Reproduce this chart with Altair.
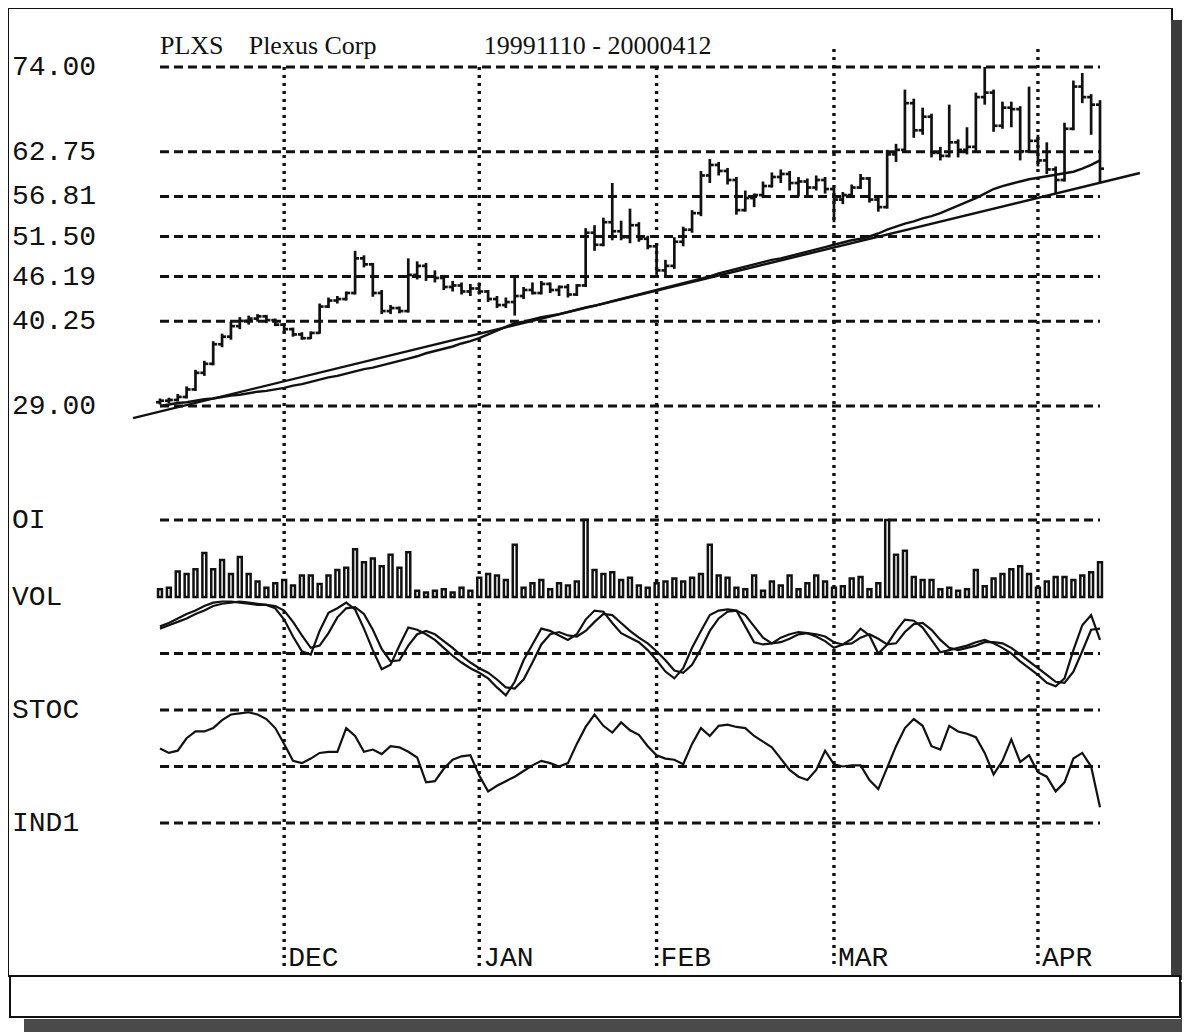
import altair as alt
import pandas as pd

# ---------------- data ----------------
opens = [29.5, 29.7, 29.8, 30.2, 31.2, 33.4, 34.6, 37.2, 38.2, 39.6,
         40.3, 40.6, 40.9, 40.4, 39.8, 39.2, 38.5, 38.0, 38.7, 42.2,
         43.0, 43.2, 44.0, 48.6, 47.8, 44.0, 41.6, 42.0, 41.6, 46.4,
         47.6, 46.2, 46.0, 44.8, 45.0, 44.2, 44.6, 44.2, 43.2, 42.4,
         42.8, 43.6, 44.4, 44.0, 45.2, 44.4, 44.8, 43.8, 45.0, 52.0,
         50.4, 53.4, 52.2, 51.4, 53.0, 51.2, 50.2, 47.0, 47.6, 50.8,
         52.4, 54.6, 59.6, 61.0, 60.2, 59.0, 55.0, 56.6, 57.0, 58.2,
         59.4, 59.8, 58.6, 58.8, 58.0, 59.0, 57.8, 56.4, 57.0, 58.0,
         59.2, 56.4, 55.4, 62.4, 63.0, 69.2, 65.6, 67.4, 62.6, 62.2,
         64.0, 63.0, 63.4, 70.0, 70.6, 66.2, 68.6, 68.4, 62.8, 64.2,
         61.6, 60.4, 59.0, 65.8, 71.4, 70.0, 69.0]
highs = [30.0, 30.1, 30.6, 31.6, 33.8, 35.0, 37.6, 38.6, 40.2, 40.8,
         41.0, 41.2, 41.1, 40.6, 40.0, 39.4, 38.8, 38.9, 42.6, 43.4,
         43.6, 44.2, 49.6, 49.0, 48.0, 44.4, 42.4, 42.2, 48.6, 48.2,
         48.0, 47.0, 46.4, 45.6, 45.4, 45.2, 45.4, 44.4, 43.6, 43.4,
         46.0, 44.8, 45.4, 45.6, 45.4, 45.0, 45.2, 45.2, 52.6, 53.0,
         54.0, 58.6, 53.6, 55.2, 53.4, 51.6, 50.6, 48.4, 51.4, 52.8,
         55.0, 60.2, 61.8, 61.4, 60.6, 59.4, 57.6, 57.2, 58.8, 60.0,
         60.4, 60.2, 59.4, 59.2, 59.6, 59.4, 58.0, 57.4, 58.4, 59.8,
         59.4, 56.8, 63.0, 63.8, 71.0, 69.8, 68.6, 67.8, 63.4, 69.0,
         64.4, 66.0, 70.6, 74.0, 71.0, 69.4, 69.4, 68.8, 71.4, 65.0,
         64.0, 60.8, 66.6, 72.2, 73.2, 70.4, 69.6]
lows = [29.2, 29.4, 29.6, 30.0, 31.0, 33.0, 34.4, 36.8, 37.8, 39.2,
        39.8, 40.2, 40.0, 39.6, 38.8, 38.2, 37.8, 37.9, 38.6, 42.0,
        42.6, 43.0, 43.8, 47.4, 43.5, 41.2, 41.2, 41.3, 41.4, 45.8,
        45.6, 45.4, 44.4, 44.2, 43.8, 43.6, 43.8, 42.8, 42.0, 42.0,
        41.0, 43.2, 43.8, 43.8, 44.0, 43.6, 43.4, 43.6, 44.8, 49.6,
        50.2, 51.0, 51.0, 50.6, 50.8, 49.8, 46.4, 46.2, 47.2, 50.2,
        52.0, 54.2, 58.6, 59.6, 58.4, 54.4, 54.8, 55.4, 56.6, 58.0,
        58.6, 57.6, 56.8, 57.0, 57.6, 57.2, 53.4, 55.8, 56.6, 57.8,
        56.0, 54.8, 55.2, 61.4, 62.8, 64.6, 65.0, 62.0, 61.6, 62.0,
        62.0, 62.4, 62.8, 69.0, 65.4, 65.8, 66.0, 61.6, 62.6, 60.8,
        59.8, 57.2, 58.8, 65.6, 69.2, 65.0, 58.6]
closes = [29.7, 29.8, 30.2, 31.2, 33.4, 34.6, 37.2, 38.2, 39.6, 40.3,
          40.6, 40.9, 40.4, 39.8, 39.2, 38.5, 38.0, 38.7, 42.2, 43.0,
          43.2, 44.0, 48.6, 47.8, 44.0, 41.6, 42.0, 41.6, 46.4, 47.6,
          46.2, 46.0, 44.8, 45.0, 44.2, 44.6, 44.2, 43.2, 42.4, 42.8,
          43.6, 44.4, 44.0, 45.2, 44.4, 44.8, 43.8, 45.0, 52.0, 50.4,
          53.4, 52.2, 51.4, 53.0, 51.2, 50.2, 47.0, 47.6, 50.8, 52.4,
          54.6, 59.6, 61.0, 60.2, 59.0, 55.0, 56.6, 57.0, 58.2, 59.4,
          59.8, 58.6, 58.8, 58.0, 59.0, 57.8, 56.4, 57.0, 58.0, 59.2,
          56.4, 55.4, 62.4, 63.0, 69.2, 65.6, 67.4, 62.6, 62.2, 64.0,
          63.0, 63.4, 70.0, 70.6, 66.2, 68.6, 68.4, 62.8, 64.2, 61.6,
          60.4, 59.0, 65.8, 71.4, 70.0, 69.0, 60.5]
moving_avg = [29.0, 29.2, 29.4, 29.5, 29.7, 29.9, 30.0, 30.2, 30.4, 30.5,
              30.7, 30.9, 31.0, 31.2, 31.4, 31.7, 31.9, 32.2, 32.5, 32.8,
              33.0, 33.3, 33.6, 33.9, 34.1, 34.4, 34.7, 35.0, 35.3, 35.6,
              36.0, 36.3, 36.6, 36.9, 37.3, 37.6, 38.0, 38.5, 39.0, 39.5,
              40.0, 40.2, 40.5, 40.8, 41.0, 41.2, 41.5, 41.8, 42.1, 42.3,
              42.6, 42.9, 43.2, 43.5, 43.8, 44.1, 44.4, 44.7, 45.0, 45.3,
              45.6, 45.9, 46.2, 46.6, 46.9, 47.2, 47.5, 47.8, 48.1, 48.4,
              48.6, 48.9, 49.2, 49.5, 49.8, 50.1, 50.4, 50.7, 51.0, 51.2,
              51.5, 51.9, 52.4, 52.8, 53.2, 53.5, 53.9, 54.2, 54.6, 55.1,
              55.6, 56.1, 56.6, 57.2, 57.8, 58.2, 58.5, 58.8, 59.1, 59.3,
              59.5, 59.7, 59.9, 60.1, 60.5, 61.0, 61.6]
volume = [10, 12, 33, 30, 36, 57, 36, 48, 30, 52,
          30, 20, 12, 18, 22, 15, 28, 28, 17, 28,
          35, 38, 62, 45, 50, 40, 55, 38, 58, 8,
          6, 8, 10, 6, 12, 8, 25, 30, 28, 22,
          68, 12, 18, 22, 10, 18, 15, 20, 100, 35,
          30, 32, 22, 25, 15, 12, 18, 20, 24, 20,
          25, 30, 68, 28, 25, 12, 10, 28, 8, 20,
          15, 28, 10, 18, 28, 20, 12, 14, 24, 26,
          10, 18, 100, 55, 60, 26, 22, 22, 10, 12,
          8, 10, 35, 14, 24, 30, 36, 40, 30, 12,
          20, 26, 26, 22, 28, 32, 45]
stoch_k = [74, 77, 81, 85, 88, 92, 95, 96, 96, 95,
           94, 93, 93, 90, 80, 65, 52, 49, 70, 86,
           90, 95, 89, 72, 53, 36, 40, 57, 73, 71,
           67, 62, 55, 48, 42, 37, 33, 28, 20, 13,
           25, 44, 58, 72, 70, 66, 62, 67, 80, 88,
           87, 77, 68, 64, 60, 53, 44, 34, 28, 37,
           55, 70, 84, 88, 89, 88, 74, 60, 58, 59,
           64, 67, 69, 68, 65, 61, 55, 58, 63, 72,
           66, 50, 58, 70, 80, 79, 73, 62, 51, 53,
           55, 57, 60, 62, 59, 55, 50, 43, 37, 31,
           24, 21, 28, 53, 75, 84, 62]
stoch_d = [72, 75, 78, 81, 85, 88, 92, 94, 95, 96,
           95, 94, 93, 92, 88, 78, 66, 55, 57, 68,
           82, 90, 91, 85, 71, 54, 43, 44, 57, 67,
           70, 67, 61, 55, 48, 42, 37, 33, 27, 20,
           19, 27, 42, 58, 67, 69, 66, 65, 70, 78,
           85, 84, 77, 70, 64, 59, 52, 44, 35, 33,
           40, 54, 70, 81, 87, 88, 84, 74, 64, 59,
           60, 63, 67, 68, 67, 65, 60, 58, 59, 64,
           67, 63, 58, 59, 69, 76, 77, 71, 62, 55,
           53, 55, 57, 60, 60, 59, 55, 49, 43, 37,
           31, 25, 24, 34, 52, 71, 72]
ind1 = [66, 62, 64, 75, 81, 81, 84, 91, 96, 97,
        98, 96, 92, 84, 70, 55, 53, 57, 62, 63,
        63, 84, 77, 63, 65, 61, 68, 67, 63, 58,
        36, 37, 48, 56, 59, 60, 42, 28, 33, 37,
        41, 46, 51, 55, 53, 50, 53, 70, 85, 96,
        86, 80, 89, 82, 78, 68, 60, 57, 56, 52,
        70, 84, 77, 86, 87, 85, 84, 77, 72, 67,
        57, 47, 41, 38, 47, 64, 52, 50, 51, 51,
        38, 30, 49, 68, 84, 92, 86, 68, 65, 86,
        81, 79, 76, 62, 43, 55, 74, 54, 60, 45,
        41, 28, 36, 57, 62, 50, 14]

trend_x = [-3.04, 110.5]
trend_p = [27.40, 59.93]

price_levels = [74.00, 62.75, 56.81, 51.50, 46.19, 40.25, 29.00]
price_labels = ["74.00", "62.75", "56.81", "51.50", "46.19", "40.25", "29.00"]
month_names = ["DEC", "JAN", "FEB", "MAR", "APR"]
month_idx = [14, 36, 56, 76, 99]
month_top = [74.0, 74.0, 74.0, 76.4, 76.4]
title_parts = ["PLXS", "Plexus Corp", "19991110 - 20000412"]
title_pos = [0, 10.0, 36.5]

# ---------------- layout helpers ----------------
N = len(closes)
idx = list(range(N))
LAST = N - 1
LABEL_X = -16.69
BOTTOM_P = -45.6
MONTH_LABEL_P = -44.3
TITLE_P = 76.75

XS = alt.Scale(domain=[0, LAST], range=[152, 1092], nice=False, zero=False)


def ys(domain, rng):
    return alt.Scale(domain=domain, range=rng, nice=False, zero=False)


PY = ys([29, 74], [398, 59])     # price panel
VY = ys([0, 100], [589, 512])    # volume panel
SY = ys([0, 100], [702, 589])    # stochastic panel
IY = ys([0, 100], [815, 702])    # IND1 panel

BLACK = "#111111"
MONO = "Liberation Mono"
LABEL_SIZE = 28


def X(f):
    return alt.X(f, scale=XS, axis=None)


def Y(f, s):
    return alt.Y(f, scale=s, axis=None)


bars = pd.DataFrame({"i": idx, "o": opens, "h": highs, "l": lows, "c": closes,
                     "ma": moving_avg, "v": volume, "k": stoch_k, "d": stoch_d,
                     "ind": ind1})
bars["il"] = bars["i"] - 0.45
bars["ir"] = bars["i"] + 0.45
bars["vl"] = bars["i"] - 0.22
bars["vr"] = bars["i"] + 0.22
bars["v0"] = 0

months = pd.DataFrame({"m": month_idx, "name": month_names, "top": month_top,
                       "bot": BOTTOM_P, "lab": MONTH_LABEL_P})
levels = pd.DataFrame({"p": price_levels, "lab": price_labels, "x0": 0, "x1": LAST, "lx": LABEL_X})
trend = pd.DataFrame({"t": trend_x, "p": trend_p})

dash_h = [9, 5]
GRID_W = 3

month_lines = alt.Chart(months).mark_rule(
    color=BLACK, strokeWidth=3.4, strokeDash=[3, 5]
).encode(x=X("m:Q"), y=Y("top:Q", PY), y2="bot:Q")

price_grid = alt.Chart(levels).mark_rule(
    color=BLACK, strokeWidth=GRID_W, strokeDash=dash_h
).encode(x=X("x0:Q"), x2="x1:Q", y=Y("p:Q", PY))

price_text = alt.Chart(levels).mark_text(
    align="left", baseline="middle", font=MONO, fontSize=LABEL_SIZE, color=BLACK
).encode(x=X("lx:Q"), y=Y("p:Q", PY), text="lab:N")


def hline(value, scale, label=None):
    df = pd.DataFrame({"y": [value], "x0": [0], "x1": [LAST], "lx": [LABEL_X],
                       "lab": [label or ""]})
    rule = alt.Chart(df).mark_rule(color=BLACK, strokeWidth=GRID_W, strokeDash=dash_h).encode(
        x=X("x0:Q"), x2="x1:Q", y=Y("y:Q", scale))
    return rule, df


oi_rule, oi_df = hline(100, VY, "OI")
st_mid, _ = hline(50, SY)
st_rule, st_df = hline(0, SY, "STOC")
in_mid, _ = hline(50, IY)
in_rule, in_df = hline(0, IY, "IND1")

vol_lab_df = pd.DataFrame({"y": [0], "lx": [LABEL_X], "lab": ["VOL"]})


def label(df, scale):
    return alt.Chart(df).mark_text(
        align="left", baseline="middle", font=MONO, fontSize=LABEL_SIZE, color=BLACK
    ).encode(x=X("lx:Q"), y=Y("y:Q", scale), text="lab:N")


trend_line = alt.Chart(trend).mark_line(color=BLACK, strokeWidth=2.4).encode(
    x=X("t:Q"), y=Y("p:Q", PY))
ma_line = alt.Chart(bars).mark_line(color=BLACK, strokeWidth=2.4).encode(
    x=X("i:Q"), y=Y("ma:Q", PY))

BAR_W = 2.7
hl = alt.Chart(bars).mark_rule(color=BLACK, strokeWidth=BAR_W).encode(
    x=X("i:Q"), y=Y("h:Q", PY), y2="l:Q")
op = alt.Chart(bars).mark_rule(color=BLACK, strokeWidth=BAR_W).encode(
    x=X("il:Q"), x2="i:Q", y=Y("o:Q", PY))
cl = alt.Chart(bars).mark_rule(color=BLACK, strokeWidth=BAR_W).encode(
    x=X("i:Q"), x2="ir:Q", y=Y("c:Q", PY))

vol = alt.Chart(bars).mark_rect(fill="white", stroke=BLACK, strokeWidth=2.5).encode(
    x=X("vl:Q"), x2="vr:Q", y=Y("v0:Q", VY), y2="v:Q")

k_line = alt.Chart(bars).mark_line(color=BLACK, strokeWidth=2.2).encode(
    x=X("i:Q"), y=Y("k:Q", SY))
d_line = alt.Chart(bars).mark_line(color=BLACK, strokeWidth=2.2).encode(
    x=X("i:Q"), y=Y("d:Q", SY))
ind_line = alt.Chart(bars).mark_line(color=BLACK, strokeWidth=2.2).encode(
    x=X("i:Q"), y=Y("ind:Q", IY))

month_text = alt.Chart(months).mark_text(
    align="left", baseline="middle", font=MONO, fontSize=LABEL_SIZE, dx=4, color=BLACK
).encode(x=X("m:Q"), y=Y("lab:Q", PY), text="name:N")

title_df = pd.DataFrame({"t": title_parts, "x": title_pos, "y": TITLE_P})
title = alt.Chart(title_df).mark_text(
    align="left", baseline="middle", font="Liberation Serif", fontSize=26, color=BLACK
).encode(x=X("x:Q"), y=Y("y:Q", PY), text="t:N")

# frame decorations (scanned page border and drop shadow)
one = alt.Data(values=[{}])
shadow_r = alt.Chart(one).mark_rect(fill="#3c3c3c").encode(
    x=alt.value(1163), x2=alt.value(1176), y=alt.value(12), y2=alt.value(972))
bottom_box = alt.Chart(one).mark_rect(fill="white", stroke=BLACK, strokeWidth=2).encode(
    x=alt.value(2), x2=alt.value(1172), y=alt.value(968), y2=alt.value(1009))
shadow_b = alt.Chart(one).mark_rect(fill="#4a4a4a").encode(
    x=alt.value(16), x2=alt.value(1182), y=alt.value(1011), y2=alt.value(1024))
shadow_br = alt.Chart(one).mark_rect(fill="#4a4a4a").encode(
    x=alt.value(1173), x2=alt.value(1182), y=alt.value(974), y2=alt.value(1024))

chart = alt.layer(
    shadow_r, shadow_br, shadow_b, bottom_box,
    month_lines, price_grid, oi_rule, st_mid, st_rule, in_mid, in_rule,
    trend_line, ma_line, hl, op, cl, vol, k_line, d_line, ind_line,
    price_text, label(oi_df, VY), label(vol_lab_df, VY), label(st_df, SY), label(in_df, IY),
    month_text, title,
).resolve_scale(y="independent").properties(
    width=1164, height=968,
    autosize=alt.AutoSizeParams(type="none"),
    padding={"left": 0, "top": 0, "right": 10, "bottom": 56},
    background="white",
).configure_view(stroke=BLACK, strokeWidth=2)

chart.save("out.html", embed_options={"renderer": "svg", "actions": False})
